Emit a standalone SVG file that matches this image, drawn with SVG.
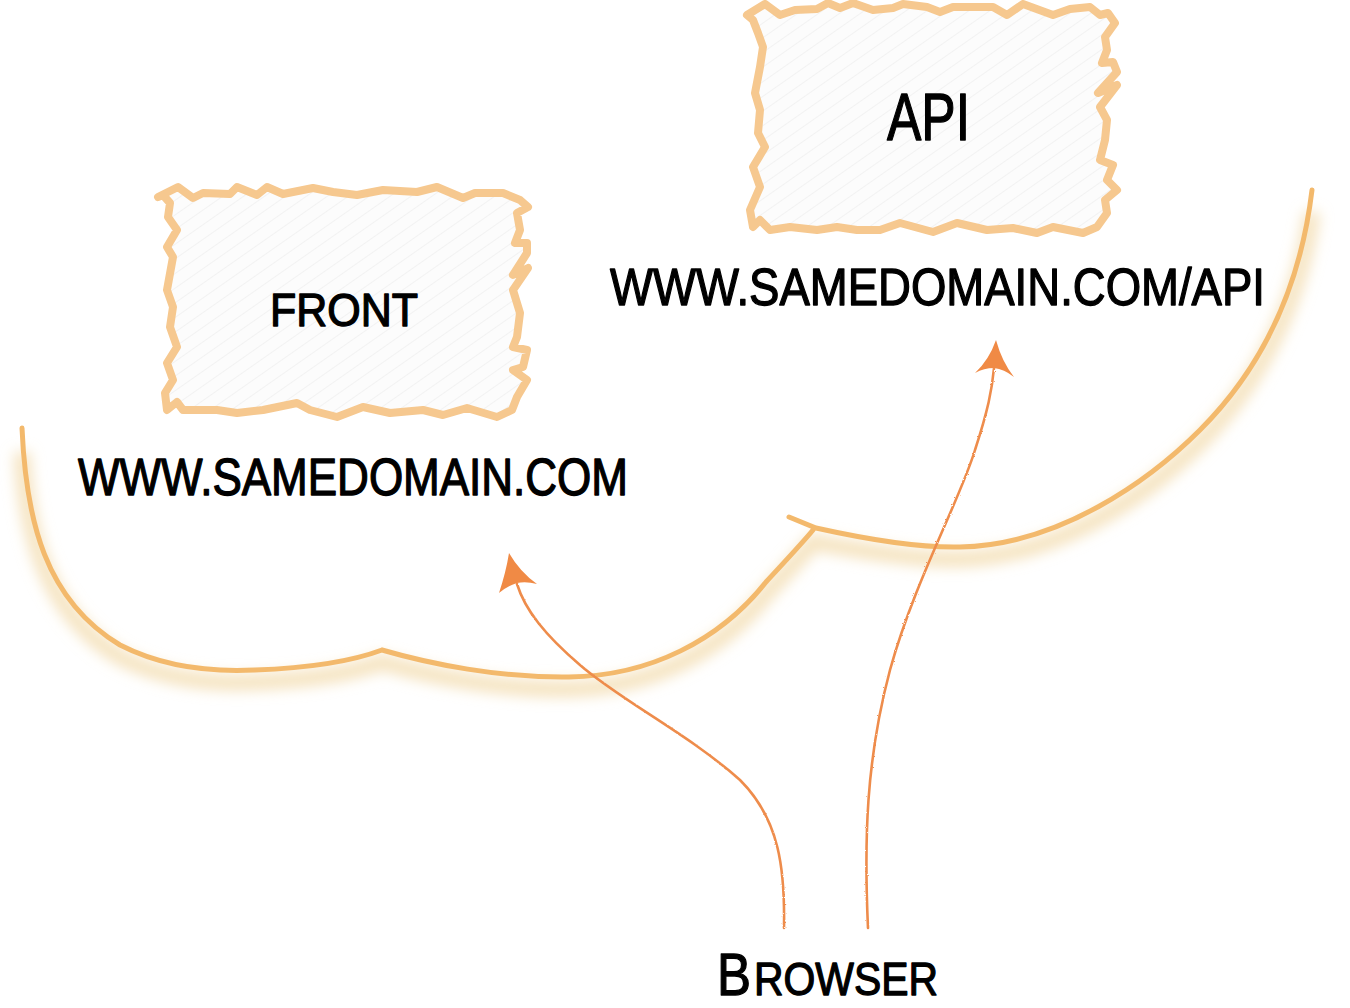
<svg xmlns="http://www.w3.org/2000/svg" width="1350" height="1008" viewBox="0 0 1350 1008">
  <defs>
    <pattern id="hatch" width="12" height="12" patternUnits="userSpaceOnUse" patternTransform="rotate(-35)">
      <rect width="12" height="12" fill="#fcfcfc"/>
      <line x1="0" y1="0" x2="12" y2="0" stroke="#f2f2f2" stroke-width="2"/>
    </pattern>
    <filter id="blur" x="-20%" y="-20%" width="140%" height="160%">
      <feGaussianBlur stdDeviation="7"/>
    </filter>
    <filter id="rough" x="-5%" y="-5%" width="110%" height="110%">
      <feTurbulence type="fractalNoise" baseFrequency="0.9" numOctaves="1" seed="3" result="n"/>
      <feDisplacementMap in="SourceGraphic" in2="n" scale="2.5"/>
    </filter>
    <style>
      .box { fill: url(#hatch); stroke: #f6c88f; stroke-width: 8; stroke-linejoin: round; stroke-linecap: round; }
      .cloud { fill: none; stroke: #f3b96c; stroke-width: 5; stroke-linecap: round; stroke-linejoin: miter; }
      .cloud-shadow { fill: none; stroke: #f1d9aa; stroke-width: 16; opacity: 0.75; }
      .txt { font-family: "Liberation Sans", Arial, sans-serif; fill: #000; stroke: #000; stroke-width: 1.3; stroke-linejoin: round; }
      .conn { fill: none; stroke: #ee8c4c; stroke-width: 2.6; stroke-linecap: round; }
      .head { fill: #f08a45; stroke: none; }
    </style>
  </defs>

  <rect width="1350" height="1008" fill="#ffffff"/>

  <g id="cloud">
    <g filter="url(#blur)" transform="translate(0,12)">
      <path class="cloud-shadow" d="M 22,440 C 26,520 45,600 120,645 C 165,668 215,672 255,670 C 310,668 350,662 382,650 C 430,664 500,678 569,677 C 650,676 720,640 766,582 C 790,556 805,540 813,530 C 870,540 920,548 960,547 C 1060,545 1150,480 1200,430 C 1260,370 1300,290 1312,200"/>
    </g>
    <path class="cloud" d="M 22,428 C 26,520 45,600 120,645 C 165,668 215,672 255,670 C 310,668 350,662 382,650 C 430,664 500,678 569,677 C 650,676 720,640 766,582 C 790,556 805,540 813,530"/>
    <path class="cloud" d="M 789,517 L 816,528 C 870,540 920,548 960,547 C 1060,545 1150,480 1200,430 C 1260,370 1300,290 1312,190"/>
  </g>

  <g id="node-front">
    <path class="box" d="M 158,197 L 178,187 193,198 203,193 230,194 237,187 257,195 267,187 283,194 313,188 333,192 357,195 383,190 417,192 437,187 463,198 475,193 503,193 520,200 528,207 517,213 520,230 515,243 527,243 527,253 513,275 528,268 513,290 520,313 517,337 513,347 527,350 523,367 513,370 527,380 517,397 512,410 497,417 467,408 443,415 423,410 390,413 363,407 337,417 310,410 297,403 263,410 237,413 217,410 183,410 177,402 167,410 165,393 173,380 167,363 177,347 170,327 173,307 167,290 173,257 167,247 177,230 168,217 170,203 163,195 Z"/>
    <text class="txt" x="270" y="326" font-size="46" textLength="148" lengthAdjust="spacingAndGlyphs">FRONT</text>
  </g>

  <g id="node-api">
    <path class="box" d="M 747,15 L 765,4 780,15 795,10 817,9 828,3 840,8 853,3 873,10 893,8 903,4 927,7 940,12 953,7 993,7 1007,15 1023,4 1053,15 1070,9 1090,7 1100,15 1108,13 1115,23 1105,37 1107,50 1102,63 1113,62 1117,72 1098,93 1117,85 1100,107 1107,120 1105,140 1100,160 1113,165 1107,180 1117,190 1105,200 1107,213 1097,227 1083,233 1053,227 1037,233 1013,228 987,230 957,223 933,232 900,223 880,230 857,230 837,227 817,230 790,227 770,230 760,220 753,227 750,210 760,187 753,167 765,147 758,133 760,110 755,93 760,67 763,47 758,33 753,20 Z"/>
    <text class="txt" x="887" y="140" font-size="66" textLength="83" lengthAdjust="spacingAndGlyphs">API</text>
  </g>

  <g id="label-front-domain">
    <text class="txt" x="78" y="495" font-size="51" textLength="550" lengthAdjust="spacingAndGlyphs">WWW.SAMEDOMAIN.COM</text>
  </g>

  <g id="label-api-domain">
    <text class="txt" x="610" y="305" font-size="51" textLength="655" lengthAdjust="spacingAndGlyphs">WWW.SAMEDOMAIN.COM/API</text>
  </g>

  <g id="node-browser">
    <text class="txt" x="717" y="995" font-size="60" textLength="34" lengthAdjust="spacingAndGlyphs">B</text>
    <text class="txt" x="754" y="995" font-size="47" textLength="184" lengthAdjust="spacingAndGlyphs">ROWSER</text>
  </g>

  <g id="connectors">
    <g filter="url(#rough)">
      <path class="conn" d="M 784,928 C 785,870 780,820 740,780 C 690,735 620,700 580,665 C 545,635 525,610 517,584"/>
      <path class="conn" d="M 868,928 C 864,840 866,760 890,670 C 915,580 960,500 975,450 C 988,410 992,390 994,368"/>
    </g>
    <path class="head" d="M 509,553 Q 520,572 537,584 Q 526,581 517,583 Q 507,586 499,593 Q 506,572 509,553 Z"/>
    <path class="head" d="M 996,340 Q 1002,362 1014,377 Q 1004,369 994,368 Q 984,368 975,373 Q 989,360 996,340 Z"/>
  </g>
</svg>
